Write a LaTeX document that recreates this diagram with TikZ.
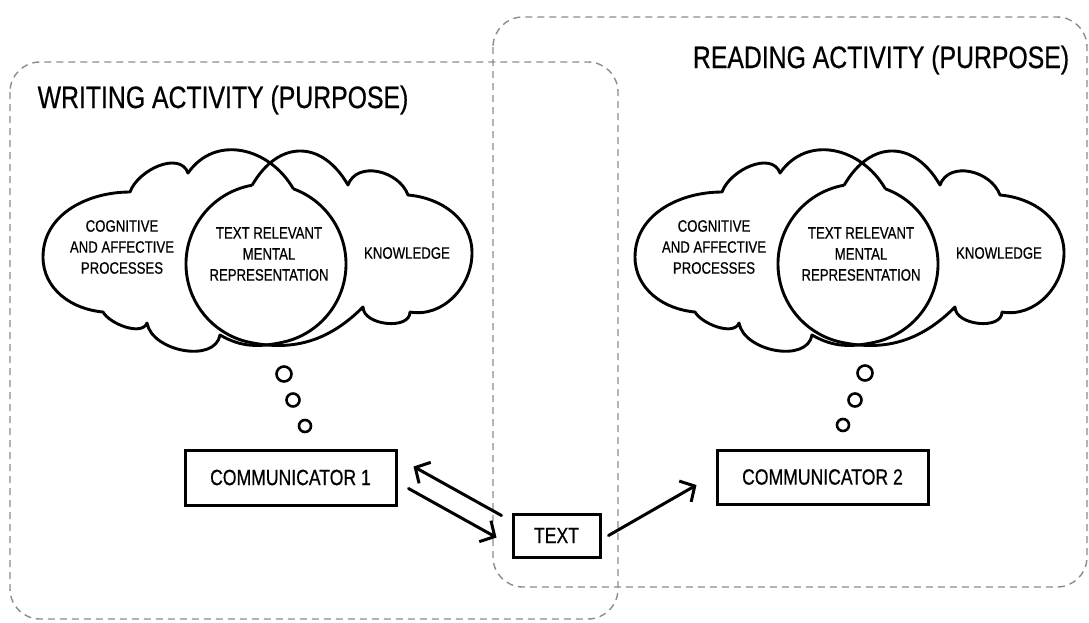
\documentclass[tikz,border=0pt]{standalone}
\usepackage{fontspec}
\setmainfont{Liberation Sans}[FakeStretch=0.8,FakeBold=0.6]
\usetikzlibrary{arrows.meta,calc}
\tikzset{
  cloudline/.style={line width=2.9pt, line join=round, draw=black},
  dashbox/.style={draw=black!45, line width=1.4pt, dash pattern=on 7pt off 5pt, rounded corners=30pt},
  commbox/.style={draw, line width=3pt, inner sep=0pt, font=\fontsize{22}{26}\selectfont},
  arr/.style={line width=3pt, line cap=round, -{Straight Barb[length=11pt,width=24pt,line width=3pt]}},
  thoughtdot/.style={circle, draw, line width=2.6pt, inner sep=0pt},
  ctext/.style={font=\fontsize{16.5}{21}\selectfont, align=center, inner sep=0pt},
  titletext/.style={font=\fontsize{31}{36}\selectfont, inner sep=0pt},
}
\newcommand\mycloudgroup[1]{%
  \coordinate (#1C) at (266,-264);
  % left cloud (cognitive)
  \draw[cloudline] ($(#1C)+(70:80)$) arc[start angle=70,end angle=-78,radius=80]
    to[out=-168,in=-30] (220,-335)
    to[out=-100,in=-80] (147,-323)
    to[out=-110,in=-60,looseness=0.8] (103,-312)
    to[out=175,in=-90] (43,-257)
    to[out=90,in=180] (130,-192)
    to[out=70,in=110] (188,-173)
    to[out=55,in=120,looseness=1.15] ($(#1C)+(70:80)$);
  % right cloud (knowledge)
  \draw[cloudline] ($(#1C)+(100:80)$) arc[start angle=100,end angle=258,radius=80]
    to[out=-12,in=-135] (363,-307)
    to[out=-90,in=-90] (410,-312)
    to[out=-10,in=-90] (472,-253)
    to[out=90,in=-5] (408,-195)
    to[out=110,in=70,looseness=1.1] (348,-185)
    to[out=120,in=60,looseness=1.4] ($(#1C)+(100:80)$);
  \node[ctext] (#1cog) at (122,-247) {COGNITIVE\\AND AFFECTIVE\\PROCESSES};
  \node[ctext] (#1rel) at (269,-254) {TEXT RELEVANT\\MENTAL\\REPRESENTATION};
  \node[ctext] (#1kno) at (407,-253) {KNOWLEDGE};
}
\begin{document}
\begin{tikzpicture}[x=1pt,y=1pt]
  \useasboundingbox (0,0) rectangle (1089,-622);
  % activity frames
  \draw[dashbox] (10,-62) rectangle (618,-619);
  \draw[dashbox] (493,-17) rectangle (1087,-587);
  \node[titletext] (wtitle) at (223,-100) {WRITING ACTIVITY (PURPOSE)};
  \node[titletext] (rtitle) at (881,-60) {READING ACTIVITY (PURPOSE)};
  % clouds
  \begin{scope}
    \mycloudgroup{L}
  \end{scope}
  \begin{scope}[shift={(592,0)}]
    \mycloudgroup{R}
  \end{scope}
  % thought dots
  \node[thoughtdot, minimum size=15pt] (ld1) at (284,-374) {};
  \node[thoughtdot, minimum size=13pt] (ld2) at (293,-400) {};
  \node[thoughtdot, minimum size=12pt] (ld3) at (305,-426) {};
  \node[thoughtdot, minimum size=15pt] (rd1) at (865,-373) {};
  \node[thoughtdot, minimum size=13pt] (rd2) at (855,-400) {};
  \node[thoughtdot, minimum size=12pt] (rd3) at (843,-425) {};
  % boxes
  \node[commbox, minimum width=211pt, minimum height=55pt] (c1) at (290.5,-477.5) {COMMUNICATOR 1};
  \node[commbox, minimum width=211pt, minimum height=54pt] (c2) at (822.5,-477) {COMMUNICATOR 2};
  \node[commbox, minimum width=87pt, minimum height=43pt] (txt) at (556.5,-535.5) {TEXT};
  % arrows
  \draw[arr] ([shift={(-10,-3)}]txt.north west) -- ([shift={(16,-18)}]c1.north east);
  \draw[arr] ([shift={(11,-40)}]c1.north east) -- ([shift={(-15,-25)}]txt.north west);
  \draw[arr] ([shift={(7,0)}]txt.east) -- ([shift={(-19,-8)}]c2.west);
\end{tikzpicture}
\end{document}
